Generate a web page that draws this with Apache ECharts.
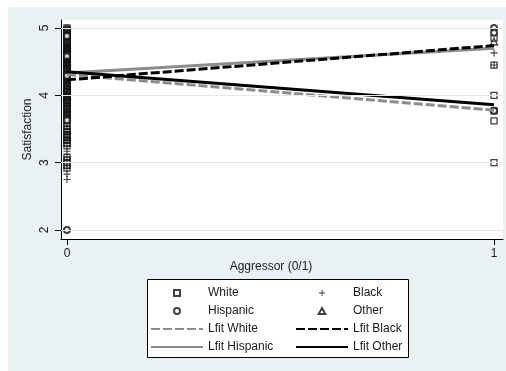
<!DOCTYPE html>
<html>
<head>
<meta charset="utf-8">
<script src="https://cdn.jsdelivr.net/npm/echarts@6/dist/echarts.min.js"></script>
<style>
  html, body { margin: 0; padding: 0; background: #fff; }
  #chart { width: 506px; height: 371px; }
</style>
</head>
<body>
<div id="chart"></div>
<script>
// Satisfaction by aggressor status (0 = no, 1 = yes), per group, with linear fits
const xTicks = [0, 1];
const yTicks = [2, 3, 4, 5];

// Observed satisfaction scores, aggressor = 0
const white0 = [5, 4.98, 4.96, 4.94, 4.92, 4.9, 4.88, 4.86, 4.83, 4.81, 4.79, 4.77, 4.75, 4.73,
  4.71, 4.69, 4.67, 4.65, 4.63, 4.6, 4.58, 4.56, 4.54, 4.52, 4.5, 4.48, 4.46, 4.44, 4.42, 4.4,
  4.38, 4.35, 4.33, 4.31, 4.29, 4.27, 4.25, 4.23, 4.21, 4.19, 4.17, 4.15, 4.13, 4.1, 4.08, 4.06,
  4.04, 4.02, 4.0, 3.98, 3.96, 3.94, 3.92, 3.9, 3.88, 3.85, 3.83, 3.81, 3.79, 3.77, 3.75, 3.73,
  3.71, 3.69, 3.67, 3.65, 3.58, 3.54, 3.5, 3.46, 3.42, 3.4, 3.38, 3.35, 3.33, 3.29, 3.25,
  3.08, 3.04, 3.0, 2.96, 2.92];
const black0 = [5, 4.92, 4.83, 4.75, 4.67, 4.58, 4.5, 4.42, 4.33, 4.25, 4.17, 4.08, 4.0, 3.92,
  3.83, 3.75, 3.67, 3.58, 3.5, 3.42, 3.33, 3.25, 3.17, 3.08, 3.0, 2.92, 2.83, 2.75];
const hispanic0 = [2.0, 3.63, 4.29, 4.58, 4.88];
const other0 = [4.5, 4.0, 4.71];

// Observed satisfaction scores, aggressor = 1
const white1 = [3.0, 3.62, 3.77, 4.0, 4.45, 4.85];
const black1 = [4.63, 4.45];
const hispanic1 = [5.0, 4.93, 3.77];
const other1 = [4.8];

// Linear fit endpoints at aggressor = 0 and aggressor = 1
const fitWhite = [4.31, 3.78];
const fitBlack = [4.23, 4.74];
const fitHispanic = [4.33, 4.70];
const fitOther = [4.35, 3.86];

const pts = (x, ys) => ys.map(v => [x, v]);
const fitPts = ys => xTicks.map((x, i) => [x, ys[i]]);

const FONT = "'Liberation Sans', Arial, sans-serif";
const INK = '#1a1a1a';
const MARK = '#111111';
const GRAY = '#8c8c8c';

const SQUARE = 'path://M0,0H10V10H0Z';
const PLUS = 'path://M4.2,0H5.8V4.2H10V5.8H5.8V10H4.2V5.8H0V4.2H4.2Z';
const TRIANGLE = 'path://M5,0L10,9H0Z';

const hollow = { color: 'rgba(0,0,0,0)', borderColor: MARK, borderWidth: 1.3 };

function scatter(name, data, symbol, size, style) {
  return { name, type: 'scatter', data, symbol, symbolSize: size, itemStyle: style,
           z: 3, animation: false, emphasis: { disabled: true } };
}
// Fit lines carry no point markers, so their item style stays invisible
function fit(name, data, color, dash) {
  return { name, type: 'line', data, symbol: 'circle', showSymbol: false, z: 4, animation: false,
           lineStyle: { color, width: 3, type: dash ? [9, 3] : 'solid' },
           itemStyle: { color: 'rgba(0,0,0,0)', borderColor: 'rgba(0,0,0,0)', borderWidth: 0 },
           emphasis: { disabled: true } };
}

const chart = echarts.init(document.getElementById('chart'), null, { renderer: 'canvas' });
chart.setOption({
  backgroundColor: '#ffffff',
  animation: false,
  textStyle: { fontFamily: FONT, color: INK },
  graphic: [
    { type: 'rect', z: -10, silent: true, shape: { x: 8, y: 7, width: 498, height: 364 },
      style: { fill: '#e9f1f3' } },
    { type: 'rect', z: 1, silent: true, shape: { x: 147.5, y: 279.5, width: 261, height: 78 },
      style: { fill: '#ffffff', stroke: '#000', lineWidth: 1 } },
    { type: 'text', z: 2, silent: true, x: 271, y: 267,
      style: { text: 'Aggressor (0/1)', font: '12px ' + FONT, fill: INK,
               align: 'center', verticalAlign: 'middle' } }
  ],
  grid: { left: 61, right: 3, top: 20, bottom: 132, show: true,
          backgroundColor: '#ffffff', borderWidth: 0 },
  xAxis: {
    type: 'value', min: -0.014, max: 1.021,
    axisLine: { show: true, onZero: false, lineStyle: { color: '#000', width: 1 } },
    axisTick: { show: true, customValues: xTicks, length: 6, lineStyle: { color: '#000' } },
    axisLabel: { customValues: xTicks, margin: 9, fontSize: 12, color: INK, fontFamily: FONT },
    splitLine: { show: false }
  },
  yAxis: {
    type: 'value', min: 1.866, max: 5.119,
    name: 'Satisfaction', nameLocation: 'middle', nameGap: 27, nameRotate: 90,
    nameMoveOverlap: false,
    nameTextStyle: { fontSize: 12, color: INK, fontFamily: FONT },
    axisLine: { show: true, onZero: false, lineStyle: { color: '#000', width: 1 } },
    axisTick: { show: true, customValues: yTicks, length: 6, lineStyle: { color: '#000' } },
    axisLabel: { customValues: yTicks, rotate: 90, margin: 10.5, fontSize: 12, color: INK, fontFamily: FONT },
    splitLine: { show: false }
  },
  legend: [
    { orient: 'vertical', left: 150, top: 286, padding: 0, itemGap: 4,
      itemWidth: 52, itemHeight: 6, selectedMode: false,
      textStyle: { fontSize: 12, color: INK, fontFamily: FONT, lineHeight: 14 },
      data: ['White', 'Hispanic', 'Lfit White', 'Lfit Hispanic'] },
    { orient: 'vertical', left: 295, top: 286, padding: 0, itemGap: 4,
      itemWidth: 52, itemHeight: 6, selectedMode: false,
      textStyle: { fontSize: 12, color: INK, fontFamily: FONT, lineHeight: 14 },
      data: ['Black', 'Other', 'Lfit Black', 'Lfit Other'] }
  ],
  series: [
    { name: 'grid', type: 'scatter', data: [], z: 1, silent: true,
      markLine: { silent: true, symbol: 'none', animation: false, label: { show: false },
        lineStyle: { color: '#e1eaed', width: 1, type: 'solid' },
        data: yTicks.map(v => ({ yAxis: v })) } },
    scatter('White', pts(0, white0).concat(pts(1, white1)), SQUARE, 6, hollow),
    scatter('Black', pts(0, black0).concat(pts(1, black1)), PLUS, 7, { color: MARK }),
    scatter('Hispanic', pts(0, hispanic0).concat(pts(1, hispanic1)), 'emptyCircle', 6,
            { color: MARK, borderColor: MARK, borderWidth: 1.3 }),
    scatter('Other', pts(0, other0).concat(pts(1, other1)), TRIANGLE, 7, hollow),
    fit('Lfit White', fitPts(fitWhite), GRAY, true),
    fit('Lfit Hispanic', fitPts(fitHispanic), GRAY, false),
    fit('Lfit Black', fitPts(fitBlack), '#000', true),
    fit('Lfit Other', fitPts(fitOther), '#000', false)
  ]
});
</script>
</body>
</html>
